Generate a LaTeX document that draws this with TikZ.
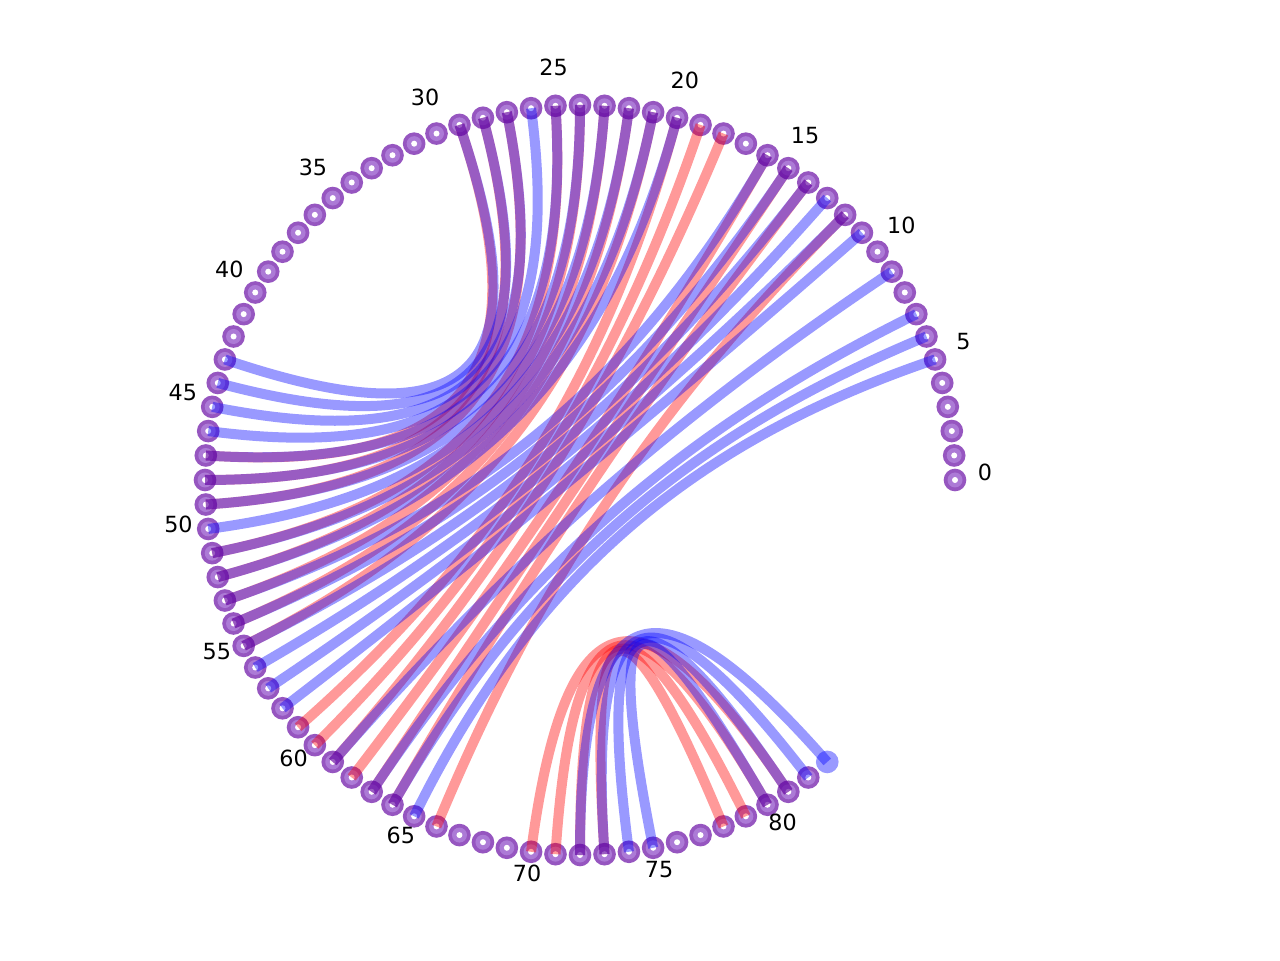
\documentclass[tikz,border=0pt]{standalone}
\usepackage{fontspec}
\setmainfont{DejaVu Sans}
\usetikzlibrary{calc}
\definecolor{nodeout}{RGB}{150,86,192}
\definecolor{nodein}{RGB}{172,122,214}
\definecolor{lightblue}{RGB}{153,153,255}
\begin{document}
\begin{tikzpicture}[x=0.75pt,y=0.75pt,
  rededge/.style={draw=red,opacity=0.4,line width=7.5pt},
  blueedge/.style={draw=blue,opacity=0.4,line width=7.5pt},
  vert/.style={circle,inner sep=0pt,minimum size=17pt,fill=nodeout},
  lbl/.style={font=\fontsize{16.7}{20}\selectfont,inner sep=0pt}]
\useasboundingbox (0,0) rectangle (1280,960);
\coordinate (ctr) at (580,480);
% vertices
\foreach \i in {0,...,82}{
  \node[vert] (n\i) at ({580+375*cos(3.75*\i)},{480+375*sin(3.75*\i)}) {};
  \fill[nodein] (n\i.center) circle (7.5);
  \fill[white] (n\i.center) circle (3);
}
\node[vert,fill=lightblue] (n83) at ({580+375*cos(3.75*83)},{480+375*sin(3.75*83)}) {};
% labels
\foreach \i in {0,5,...,80}{
  \node[lbl] (l\i) at ({580+405*cos(3.75*\i)},{488+405*sin(3.75*\i)}) {\i};
}
% red chords
\foreach \a/\b in {12/66,14/64,15/63,16/62,18/61,19/60,20/59,21/55,22/54,23/53,24/52,25/51,27/49,28/48,29/47,70/81,71/80,72/79,73/78}{
  \draw[rededge] (n\a.center) .. controls ($(n\a.center)!0.7!(ctr)$) and ($(n\b.center)!0.7!(ctr)$) .. (n\b.center);
}
% blue chords
\foreach \a/\b in {5/65,6/64,7/63,9/61,11/58,12/57,13/56,14/55,15/54,16/53,20/52,21/51,22/50,23/49,24/48,25/47,26/46,27/45,28/44,29/43,72/83,73/82,74/81,75/80}{
  \draw[blueedge] (n\a.center) .. controls ($(n\a.center)!0.7!(ctr)$) and ($(n\b.center)!0.7!(ctr)$) .. (n\b.center);
}
\end{tikzpicture}
\end{document}
